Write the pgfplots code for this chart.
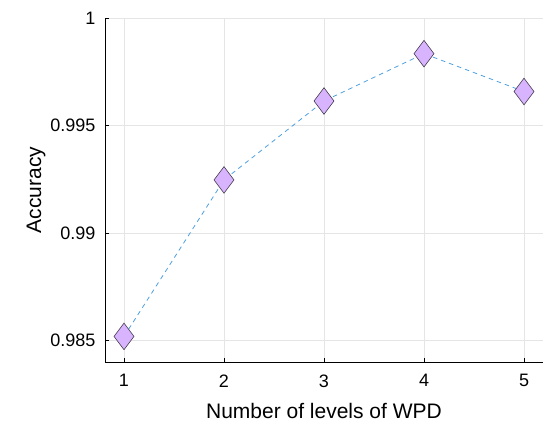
\documentclass[border=0pt]{standalone}
\usepackage{pgfplots}
\pgfplotsset{compat=1.18}
\usepackage{fontspec}
\setmainfont{Liberation Sans}
\definecolor{mfill}{RGB}{216,180,254}
\definecolor{medge}{RGB}{70,60,80}
\definecolor{lblue}{RGB}{77,160,224}
\definecolor{gridc}{RGB}{229,229,229}
\begin{document}
\begin{tikzpicture}
\useasboundingbox (0,0) rectangle (544bp,424bp);
\begin{axis}[
  at={(105bp,62bp)}, anchor=south west,
  scale only axis,
  width=438bp, height=344bp,
  xmin=0.81, xmax=5.19,
  ymin=0.984, ymax=1.0,
  xtick={1,2,3,4,5},
  ytick={0.985,0.99,0.995,1},
  yticklabels={0.985,0.99,0.995,1},
  scaled y ticks=false,
  axis x line*=bottom, axis y line*=left,
  axis line style={black, line width=0.9pt, -},
  tick style={black, line width=0.8pt},
  tick align=inside,
  major tick length=4bp,
  grid=major,
  major grid style={gridc, line width=0.7pt},
  /pgf/number format/assume math mode=true,
  tick label style={font=\fontsize{18bp}{21bp}\selectfont},
  label style={font=\fontsize{21bp}{25bp}\selectfont},
  xlabel={Number of levels of WPD},
  ylabel={Accuracy},
  xticklabel style={yshift=-9bp},
  yticklabel style={xshift=-6bp},
  xlabel style={at={([yshift=-38bp]axis description cs:0.5,0)}, anchor=north},
  ylabel style={at={([xshift=-56bp]axis description cs:0,0.5)}, anchor=south},
  clip=false,
]
\addplot[lblue, line width=0.8pt, dash pattern=on 4.5bp off 4bp,
  mark=diamond*, mark size=13.3bp,
  mark options={solid, fill=mfill, draw=medge, line width=0.6pt}]
  coordinates {(1,0.98519) (2,0.99247) (3,0.99614) (4,0.99834) (5,0.99658)};
\end{axis}
\end{tikzpicture}
\end{document}
